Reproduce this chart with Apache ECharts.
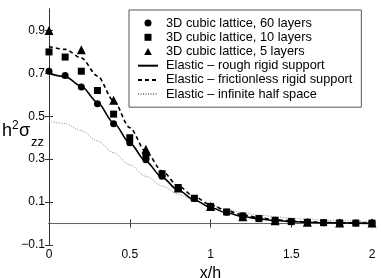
<!DOCTYPE html>
<html><head><meta charset="utf-8">
<script src="https://cdn.jsdelivr.net/npm/echarts@6/dist/echarts.min.js"></script>
<style>html,body{margin:0;padding:0;background:#fff}#c{width:381px;height:278px}</style>
</head><body><div id="c"></div>
<script>
const xs = [0,0.1,0.2,0.3,0.4,0.5,0.6,0.7,0.8,0.9,1.0,1.1,1.2,1.3,1.4,1.5,1.6,1.7,1.8,1.9,2.0];
const xsTri = [0,0.2,0.4,0.6,0.8,1.0,1.2,1.4,1.6,1.8,2.0];
const lattice60 = [0.71,0.69,0.636,0.558,0.465,0.377,0.297,0.22,0.163,0.117,0.077,0.053,0.035,0.023,0.014,0.009,0.006,0.004,0.003,0.002,0.002];
const lattice10 = [0.80,0.776,0.71,0.62,0.51,0.40,0.315,0.232,0.168,0.118,0.08,0.054,0.035,0.023,0.015,0.009,0.006,0.004,0.003,0.002,0.002];
const lattice5 = [0.90,0.81,0.575,0.346,0.166,0.08,0.032,0.013,0.006,0.003,0.002];
const roughRigid = [0.70,0.685,0.64,0.565,0.47,0.375,0.29,0.215,0.155,0.11,0.075,0.05,0.033,0.022,0.014,0.009,0.006,0.004,0.003,0.002,0.001];
const frictionless = [0.825,0.812,0.772,0.688,0.572,0.447,0.335,0.245,0.175,0.125,0.088,0.06,0.04,0.027,0.018,0.012,0.008,0.005,0.004,0.003,0.002];
const halfSpace = [0.477,0.466,0.433,0.385,0.330,0.273,0.220,0.175,0.137,0.106,0.084,0.065,0.051,0.040,0.032,0.025,0.020,0.016,0.013,0.011,0.009];
const zeroLineX = [0,2];
const zeroLineY = [0,0];
const yTicks = [-0.1,0.1,0.3,0.5,0.7,0.9];
const xTicks = [0,0.5,1,1.5,2];
const names = ['3D cubic lattice, 60 layers','3D cubic lattice, 10 layers','3D cubic lattice, 5 layers',
  'Elastic \u2013 rough rigid support','Elastic \u2013 frictionless rigid support','Elastic \u2013 infinite half space'];

const pairs = (x, y) => x.map((v, i) => [v, y[i]]);
const FONT = 'Liberation Sans, Arial, Helvetica, sans-serif';
const AX = '#333';
const SQUARE = 'path://M0,0L10,0L10,10L0,10Z';
const TRI = 'path://M5,0L10,9L0,9Z';
const noMark = {opacity: 0, borderWidth: 0};

const chart = echarts.init(document.getElementById('c'), null, {renderer: 'canvas'});
chart.setOption({
  animation: false,
  backgroundColor: '#fff',
  textStyle: {fontFamily: FONT},
  grid: {left: 49, right: 9, top: 9, bottom: 33, containLabel: false, outerBoundsMode: 'none'},
  legend: {
    orient: 'vertical', left: 129, top: 10,
    padding: [6, 9, 6, 8],
    itemWidth: 20, itemHeight: 7, itemGap: 0,
    borderColor: '#555', borderWidth: 1, borderRadius: 0, backgroundColor: '#fff',
    selectedMode: false,
    textStyle: {fontFamily: FONT, fontSize: 12.8, color: '#000', lineHeight: 14.2, padding: [0, 0, 0, 3]},
    data: [
      {name: names[0], icon: 'circle', itemStyle: {color: '#000', opacity: 1}},
      {name: names[1], icon: SQUARE, itemStyle: {color: '#000', opacity: 1}},
      {name: names[2], icon: TRI, itemStyle: {color: '#000', opacity: 1}},
      {name: names[3], itemStyle: noMark},
      {name: names[4], itemStyle: noMark},
      {name: names[5], itemStyle: noMark}
    ]
  },
  xAxis: [{
    type: 'value', min: 0, max: 2, interval: 0.5, position: 'bottom',
    name: 'x/h', nameLocation: 'middle', nameGap: 15,
    nameTextStyle: {fontFamily: FONT, fontSize: 16, color: '#000'},
    axisLine: {show: true, lineStyle: {color: AX, width: 1}},
    axisTick: {show: true, inside: true, length: 4, lineStyle: {color: AX}},
    axisLabel: {show: true, margin: 4, fontSize: 12, color: '#000', fontFamily: FONT,
      customValues: xTicks, formatter: v => String(v)},
    splitLine: {show: false}
  }, {
    type: 'value', min: 0, max: 2, interval: 0.5, position: 'top',
    axisLine: {show: true, lineStyle: {color: AX, width: 1}},
    axisTick: {show: true, inside: true, length: 4, lineStyle: {color: AX}},
    axisLabel: {show: false}, splitLine: {show: false}
  }],
  yAxis: [{
    type: 'value', min: -0.1, max: 1.0, position: 'left',
    axisLine: {show: true, lineStyle: {color: AX, width: 1}},
    axisTick: {show: true, inside: true, length: 4, lineStyle: {color: AX}, customValues: yTicks},
    axisLabel: {show: true, margin: 4, fontSize: 12, color: '#000', fontFamily: FONT,
      customValues: yTicks, formatter: v => v.toFixed(1).replace('-', '\u2212')},
    splitLine: {show: false}
  }, {
    type: 'value', min: -0.1, max: 1.0, position: 'right',
    axisLine: {show: true, lineStyle: {color: AX, width: 1}},
    axisTick: {show: true, inside: true, length: 4, lineStyle: {color: AX}, customValues: yTicks},
    axisLabel: {show: false}, splitLine: {show: false}
  }],
  graphic: [
    {type: 'text', left: 2, top: 122, style: {text: 'h', font: '18px ' + FONT, fill: '#000'}},
    {type: 'text', left: 12, top: 120, style: {text: '2', font: '12px ' + FONT, fill: '#000'}},
    {type: 'text', left: 19, top: 122, style: {text: '\u03c3', font: '18px ' + FONT, fill: '#000'}},
    {type: 'text', left: 31, top: 136, style: {text: 'zz', font: '13px ' + FONT, fill: '#000'}}
  ],
  series: [
    {name: 'zero', type: 'line', data: pairs(zeroLineX, zeroLineY), symbol: 'none', silent: true,
      lineStyle: {color: '#666', width: 1}, z: 1},
    {name: names[5], type: 'line', data: pairs(xs, halfSpace), symbol: 'none', smooth: 0.3, smoothMonotone: 'x',
      lineStyle: {color: '#8a8a8a', width: 1, type: [1, 1.5]}, itemStyle: {color: '#8a8a8a'}},
    {name: names[3], type: 'line', data: pairs(xs, roughRigid), symbol: 'none', smooth: 0.3, smoothMonotone: 'x',
      lineStyle: {color: '#000', width: 1.6, type: 'solid'}, itemStyle: {color: '#000'}},
    {name: names[4], type: 'line', data: pairs(xs, frictionless), symbol: 'none', smooth: 0.3, smoothMonotone: 'x',
      lineStyle: {color: '#000', width: 1.6, type: [4, 3]}, itemStyle: {color: '#000'}},
    {name: names[0], type: 'scatter', data: pairs(xs, lattice60), symbol: 'circle', symbolSize: 7,
      itemStyle: {color: '#000', opacity: 1}, z: 5},
    {name: names[1], type: 'scatter', data: pairs(xs, lattice10), symbol: 'rect', symbolSize: 7,
      itemStyle: {color: '#000', opacity: 1}, z: 5},
    {name: names[2], type: 'scatter', data: pairs(xsTri, lattice5), symbol: 'triangle', symbolSize: 9,
      itemStyle: {color: '#000', opacity: 1}, z: 5}
  ]
});
</script>
</body></html>
